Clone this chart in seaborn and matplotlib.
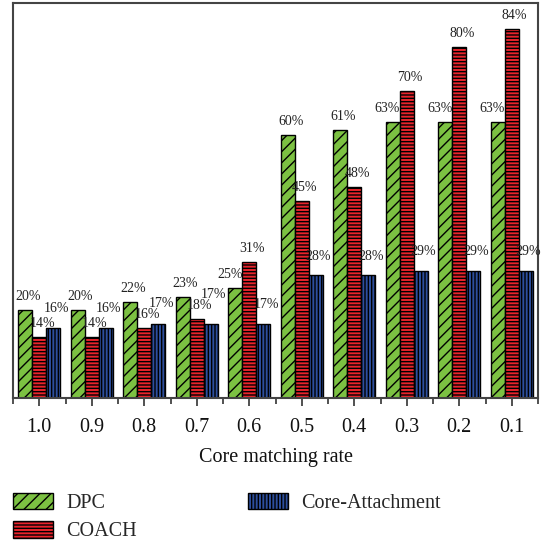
import matplotlib
matplotlib.use("Agg")
import matplotlib.pyplot as plt
import seaborn as sns
import pandas as pd
from matplotlib.patches import Patch

categories = ["1.0", "0.9", "0.8", "0.7", "0.6", "0.5", "0.4", "0.3", "0.2", "0.1"]
dpc = [20, 20, 22, 23, 25, 60, 61, 63, 63, 63]
coach = [14, 14, 16, 18, 31, 45, 48, 70, 80, 84]
core_attachment = [16, 16, 17, 17, 17, 28, 28, 29, 29, 29]
series_names = ["DPC", "COACH", "Core-Attachment"]

rows = []
for name, vals in zip(series_names, [dpc, coach, core_attachment]):
    for c, v in zip(categories, vals):
        rows.append({"rate": c, "method": name, "value": v})
df = pd.DataFrame(rows)

sns.set_style("ticks")
plt.rcParams["font.family"] = ["Liberation Serif", "DejaVu Serif"]
plt.rcParams["hatch.linewidth"] = 1.0

colors = ["#7cc142", "#e8232b", "#2d4f9e"]
hatches = ["///", "-----", "|||||"]
label_pads = [5.0, 5.0, 9.0]

fig = plt.figure(figsize=(5.44, 5.41), dpi=100)
ax = fig.add_axes([0.024, 0.264, 0.965, 0.7305])

sns.barplot(data=df, x="rate", y="value", hue="method", order=categories,
            hue_order=series_names, palette=colors, width=0.8, ax=ax,
            edgecolor="black", linewidth=1.0, legend=False, saturation=1)

ax.set_ylim(0, 90)
ax.set_xlim(-0.5, len(categories) - 0.5)

conts = list(ax.containers)
for cont, h in zip(conts, hatches):
    for bar in cont:
        bar.set_hatch(h)
        bar.set_edgecolor("black")

fig.canvas.draw()
renderer = fig.canvas.get_renderer()
n = len(categories)
for i in range(n):
    placed = []
    for s, (cont, pad) in enumerate(zip(conts, label_pads)):
        bar = cont[i]
        hgt = bar.get_height()
        dx = 2
        if s == 0 and conts[1][i].get_height() > hgt + 5:
            dx = -4
        dy = pad
        while True:
            t = ax.annotate(f"{int(round(hgt))}%",
                            xy=(bar.get_x() + bar.get_width() / 2, hgt),
                            xytext=(dx, dy), textcoords="offset points",
                            ha="center", va="bottom", fontsize=10, color="#222222")
            bb = t.get_window_extent(renderer).shrunk(0.95, 0.8)
            if any(bb.overlaps(p) for p in placed):
                t.remove()
                dy += 1
                continue
            placed.append(bb)
            break

ax.set_yticks([])
ax.set_ylabel("")
ax.set_xlabel("Core matching rate", fontsize=14.5, labelpad=8, color="#111111")
ax.set_xticks(range(n), minor=False)
ax.set_xticks([i + 0.5 for i in range(-1, n)], minor=True)
ax.tick_params(axis="x", labelsize=14.5, length=6, width=1.2, colors="#333333",
               labelcolor="#111111", pad=8)
ax.tick_params(axis="x", which="minor", length=4, width=1.2, colors="#333333")
for sp in ax.spines.values():
    sp.set_visible(True)
    sp.set_linewidth(1.5)
    sp.set_color("#444444")

handles = [Patch(facecolor=c, edgecolor="black", hatch=h, linewidth=1.0)
           for c, h in zip(colors, hatches)]
fig.legend(handles, series_names, loc="upper left", bbox_to_anchor=(0.024, 0.088),
           ncol=2, frameon=False, fontsize=14.5, handlelength=2.0, handleheight=0.85,
           handletextpad=0.65, columnspacing=5.5, labelspacing=0.4,
           borderpad=0, borderaxespad=0)

fig.savefig("out.png", dpi=100)
